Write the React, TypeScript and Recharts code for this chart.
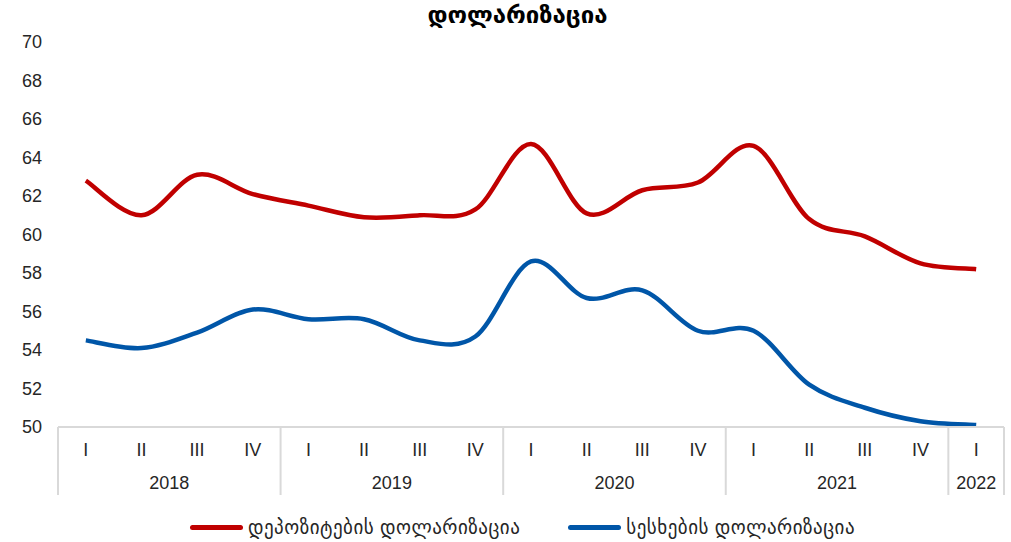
import React from 'react';
import { LineChart, Line, XAxis, YAxis, Legend } from 'recharts';

const years = ['2018', '2019', '2020', '2021', '2022'];
const quartersPerYear = [4, 4, 4, 4, 1];
const quarterNames = ['I', 'II', 'III', 'IV'];
const yTicks = [50, 52, 54, 56, 58, 60, 62, 64, 66, 68, 70];

const depositDollarization = [62.8, 61.0, 63.1, 62.1, 61.5, 60.9, 61.0, 61.3, 64.7, 61.1, 62.3, 62.7, 64.6, 60.8, 59.9, 58.5, 58.2];
const loanDollarization = [54.5, 54.1, 54.9, 56.1, 55.6, 55.6, 54.5, 54.7, 58.6, 56.7, 57.1, 55.0, 55.0, 52.2, 51.0, 50.3, 50.1];

const depositName = 'დეპოზიტების დოლარიზაცია';
const loanName = 'სესხების დოლარიზაცია';
const title = 'დოლარიზაცია';

type Row = { key: string; q: string; year: string; groupStart: boolean; groupSize: number; dep: number; loan: number };

const rows: Row[] = [];
years.forEach((y, yi) => {
  for (let k = 0; k < quartersPerYear[yi]; k++) {
    const i = rows.length;
    rows.push({
      key: `${y}-${quarterNames[k]}`,
      q: quarterNames[k],
      year: y,
      groupStart: k === 0,
      groupSize: quartersPerYear[yi],
      dep: depositDollarization[i],
      loan: loanDollarization[i],
    });
  }
});

const W = 1011;
const H = 542;
const M = { top: 42, right: 7, left: 0, bottom: 15 };
const Y_AXIS_W = 58;
const PLOT_W = W - M.left - M.right - Y_AXIS_W;
const BAND = PLOT_W / rows.length;
const FONT = '"Liberation Sans", Arial, "DejaVu Sans", sans-serif';
const GRID = '#d9d9d9';

// Excel-like smooth curve (Catmull-Rom through points)
function excelCurve(context: any) {
  let pts: number[][] = [];
  return {
    areaStart() {},
    areaEnd() {},
    lineStart() { pts = []; },
    point(x: number, y: number) { pts.push([+x, +y]); },
    lineEnd() {
      const n = pts.length;
      if (!n) return;
      context.moveTo(pts[0][0], pts[0][1]);
      const t = 1 / 6;
      for (let i = 0; i < n - 1; i++) {
        const p0 = pts[i - 1] || pts[i];
        const p1 = pts[i];
        const p2 = pts[i + 1];
        const p3 = pts[i + 2] || pts[i + 1];
        context.bezierCurveTo(
          p1[0] + (p2[0] - p0[0]) * t, p1[1] + (p2[1] - p0[1]) * t,
          p2[0] - (p3[0] - p1[0]) * t, p2[1] - (p3[1] - p1[1]) * t,
          p2[0], p2[1]
        );
      }
    },
  };
}

const QuarterTick = (props: any) => {
  const { x, y, payload, index } = props;
  const idx = payload && typeof payload.index === 'number' ? payload.index : index;
  const row = rows[idx];
  if (!row) return null;
  const half = BAND / 2;
  const els: any[] = [];
  els.push(
    <text key="q" x={x} y={y + 29} textAnchor="middle" fontSize={18} fontFamily={FONT} fill="#262626">{row.q}</text>
  );
  if (row.groupStart) {
    els.push(<line key="sep" x1={x - half} x2={x - half} y1={y} y2={y + 68} stroke={GRID} strokeWidth={2} />);
    els.push(
      <text key="yr" x={x - half + (row.groupSize * BAND) / 2} y={y + 62} textAnchor="middle" fontSize={18} fontFamily={FONT} fill="#262626">{row.year}</text>
    );
  }
  if (idx === rows.length - 1) {
    els.push(<line key="end" x1={x + half} x2={x + half} y1={y} y2={y + 68} stroke={GRID} strokeWidth={2} />);
  }
  return <g>{els}</g>;
};

const LegendContent = () => (
  <div style={{ display: 'flex', justifyContent: 'center', alignItems: 'center', height: 30, fontFamily: FONT, fontSize: 19, letterSpacing: 0.5, color: '#262626', paddingLeft: 34 }}>
    <div style={{ display: 'flex', alignItems: 'center', marginRight: 48 }}>
      <div style={{ width: 53, height: 5, background: '#C00000', borderRadius: 3, marginRight: 5 }} />
      <span>{depositName}</span>
    </div>
    <div style={{ display: 'flex', alignItems: 'center' }}>
      <div style={{ width: 53, height: 5, background: '#0056A8', borderRadius: 3, marginRight: 5 }} />
      <span>{loanName}</span>
    </div>
  </div>
);

export default function App() {
  return (
    <div style={{ position: 'absolute', left: 0, top: 0, width: W, height: H, background: '#fff' }}>
      <div style={{ position: 'absolute', left: 12, top: 1, width: W, textAlign: 'center', fontFamily: FONT, fontWeight: 'bold', fontSize: 24, letterSpacing: 0, color: '#000', zIndex: 2 }}>
        {title}
      </div>
      <LineChart width={W} height={H} data={rows} margin={M}>
        <XAxis
          dataKey="key"
          scale="band"
          interval={0}
          height={70}
          tickLine={false}
          tickSize={0}
          tickMargin={0}
          axisLine={{ stroke: GRID, strokeWidth: 2 }}
          tick={<QuarterTick />}
        />
        <YAxis
          domain={[50, 70]}
          ticks={yTicks}
          width={Y_AXIS_W}
          axisLine={false}
          tickLine={false}
          tickSize={0}
          tickMargin={16}
          interval={0}
          tick={{ fontSize: 18, fontFamily: FONT, fill: '#262626' }}
        />
        <Legend
          verticalAlign="bottom"
          height={30}
          content={<LegendContent />}
          wrapperStyle={{ top: 512, left: 0, width: W }}
        />
        <Line dataKey="dep" name={depositName} type={excelCurve as any} stroke="#C00000" strokeWidth={4.5} dot={false} isAnimationActive={false} />
        <Line dataKey="loan" name={loanName} type={excelCurve as any} stroke="#0056A8" strokeWidth={4.5} dot={false} isAnimationActive={false} />
      </LineChart>
    </div>
  );
}
